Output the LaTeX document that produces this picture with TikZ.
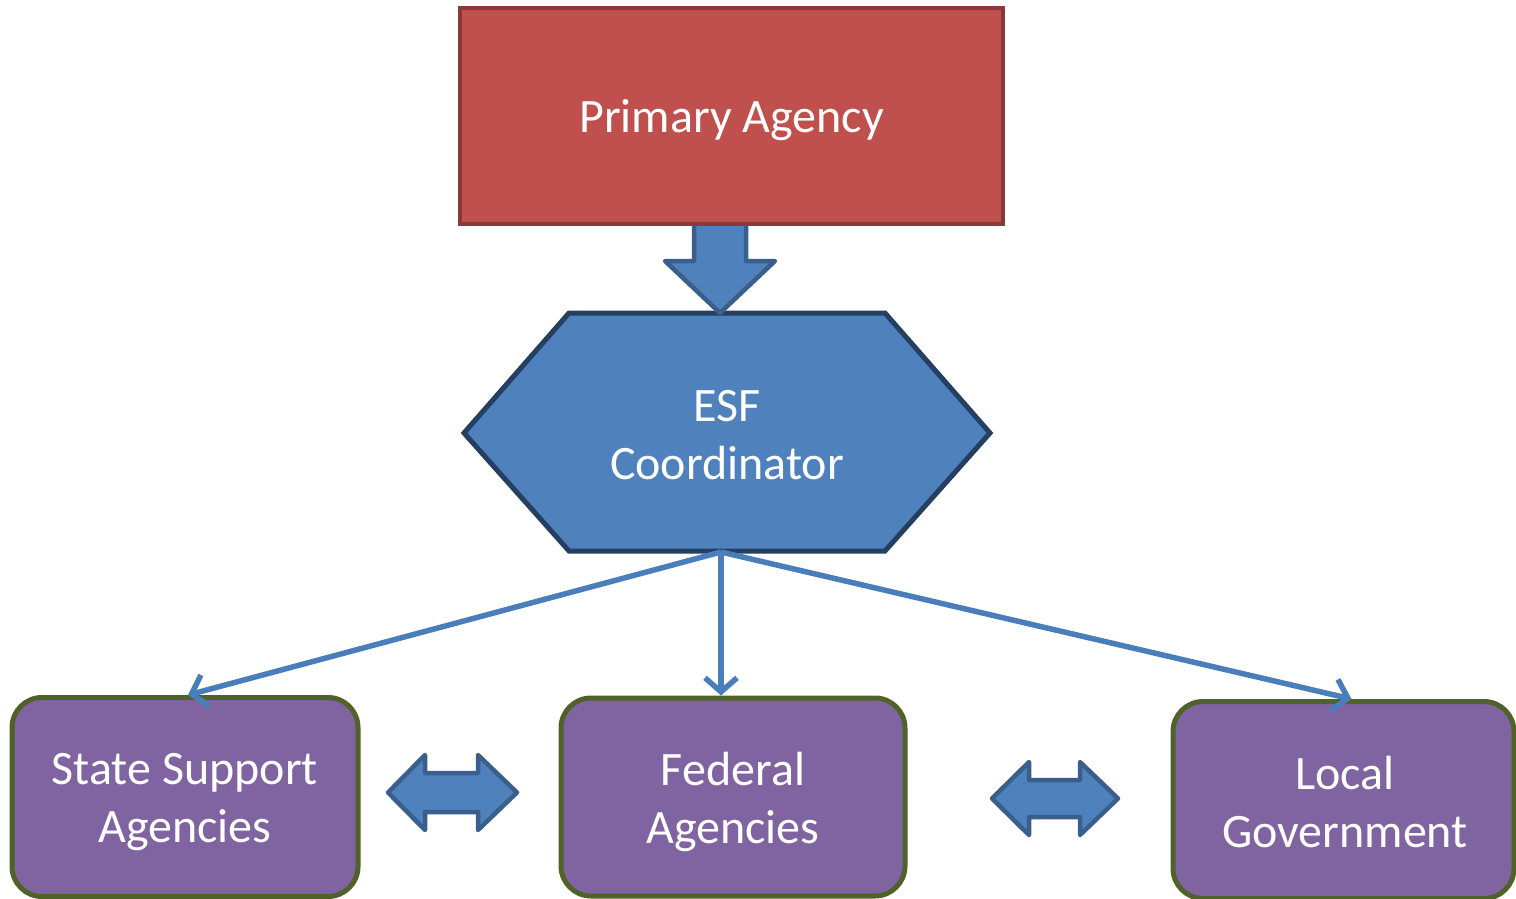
\documentclass[tikz,border=0pt]{standalone}
\usepackage{fontspec}
\setmainfont{Carlito}
\usetikzlibrary{arrows.meta,calc}
\definecolor{redfill}{HTML}{C0504D}
\definecolor{redline}{HTML}{8C3836}
\definecolor{bluefill}{HTML}{4F81BD}
\definecolor{blueline}{HTML}{3A5F8C}
\definecolor{hexline}{HTML}{243F60}
\definecolor{purfill}{HTML}{8064A2}
\definecolor{purline}{HTML}{4F6228}
\definecolor{conncol}{HTML}{4A7EBB}
\begin{document}
\begin{tikzpicture}[x=1pt,y=-1pt,
  lbl/.style={text=white,font=\fontsize{48}{58}\selectfont,align=center,inner sep=0pt},
  agency/.style={draw=purline,fill=purfill,line width=5,rounded corners=30,inner sep=0pt},
  primarybox/.style={draw=redline,fill=redfill,line width=4,inner sep=0pt},
  hexbox/.style={draw=hexline,fill=bluefill,line width=5,line join=miter},
  barrow/.style={draw=blueline,fill=bluefill,line width=4.5,line join=round},
  conn/.style={draw=conncol,line width=5.5,-{Straight Barb[length=14pt,width=32pt,line width=5.5pt]}}
]
\useasboundingbox (0,0) rectangle (1516,899);
\clip (0,0) rectangle (1516,899);

% ESF hexagon
\draw[hexbox] (464,433) -- (569,313) -- (885,313) -- (990,433) -- (885,551) -- (569,551) -- cycle;
\node[lbl] (esf) at (727,435) {ESF\\Coordinator};
\coordinate (esfb) at (721,552);

% block arrow Primary -> ESF
\draw[barrow] (694,222) -- (694,261) -- (665,261) -- (720,313) -- (775,261) -- (746,261) -- (746,222);

% Primary agency
\node[primarybox,minimum width=543,minimum height=216] (primary) at (731.5,116) {};
\node[lbl] (primarytext) at (731.5,120) {Primary Agency};

% bottom boxes
\node[agency,minimum width=346,minimum height=199] (state) at (185,797) {};
\node[lbl] (statetext) at (185,802) {State Support\\Agencies};
\node[agency,minimum width=344,minimum height=198] (federal) at (733,797) {};
\node[lbl] (federaltext) at (733,802) {Federal\\Agencies};
\node[agency,minimum width=341,minimum height=197] (local) at (1343.5,800) {};
\node[lbl] (localtext) at (1345,802) {Local\\Government};

% connectors
\draw[conn] (esfb) -- ($(state.north)+(3,0)$);
\draw[conn] (esfb) -- ($(federal.north)+(-12,0)$);
\draw[conn] (esfb) -- ($(local.north)+(8,0)$);

% double block arrows
\draw[barrow] (388,792.5) -- (425,755) -- (425,773) -- (478,773) -- (478,755) -- (517,792.5) -- (478,830) -- (478,812) -- (425,812) -- (425,830) -- cycle;
\draw[barrow] (992,798.5) -- (1029,762) -- (1029,780) -- (1080,780) -- (1080,762) -- (1118,798.5) -- (1080,835) -- (1080,817) -- (1029,817) -- (1029,835) -- cycle;
\end{tikzpicture}
\end{document}
